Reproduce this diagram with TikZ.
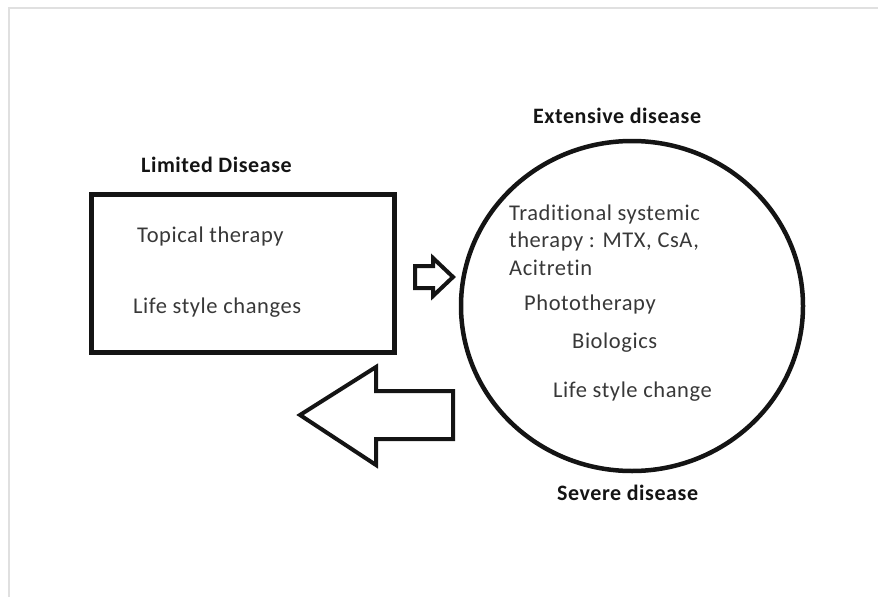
\documentclass[tikz,border=0pt]{standalone}
\usepackage{fontspec}
\setmainfont{Carlito}[Ligatures={NoCommon}, LetterSpace=2.6]
\usetikzlibrary{shapes.geometric}
\begin{document}
\begin{tikzpicture}[x=1pt,y=-1pt,
  body/.style={anchor=base west, inner sep=0pt, font=\fontsize{22.5}{27}\selectfont, text=black!78},
  head/.style={anchor=base west, inner sep=0pt, font=\bfseries\fontsize{22}{27}\selectfont, text=black!92},
  outline/.style={draw=black!92, line width=4.5pt, line join=miter},
  blockarrow/.style={draw=black!92, line width=4pt, line join=miter, fill=white}]
\useasboundingbox (0,0) rectangle (878,597);
\draw[black!12, line width=1.2pt] (9,597) -- (9,8) -- (878,8);

% limited disease box
\node[outline, rectangle, minimum width=303pt, minimum height=158pt, inner sep=0pt] (lim) at (243,273.5) {};
\node[head] (limt) at (141,172) {Limited Disease};
\node[body] (top) at (137,242) {Topical therapy};
\node[body] (lsc) at (133,313) {Life style changes};

% extensive disease ellipse
\node[outline, ellipse, minimum width=342pt, minimum height=330pt, inner sep=0pt] (ext) at (632,306) {};
\node[head] (extt) at (533,123) {Extensive disease};
\node[head] (sev) at (557,500) {Severe disease};
\node[body] (trad) at (509,220) {Traditional systemic};
\node[body] (trad2) at (509,247) {therapy : MTX, CsA,};
\node[body] (trad3) at (509,275) {Acitretin};
\node[body] (photo) at (524,310) {Phototherapy};
\node[body] (bio) at (572,348) {Biologics};
\node[body] (lsc2) at (553,397) {Life style change};

% small right arrow
\coordinate (sa) at (453,277);
\draw[blockarrow] (415,266) -- (433,266) -- (433,258) -- (sa) -- (433,296) -- (433,288) -- (415,288) -- cycle;

% big left arrow
\coordinate (ba) at (300,415);
\draw[blockarrow] (ba) -- (376,367) -- (376,391) -- (453,391) -- (453,439) -- (376,439) -- (376,465) -- cycle;
\end{tikzpicture}
\end{document}
